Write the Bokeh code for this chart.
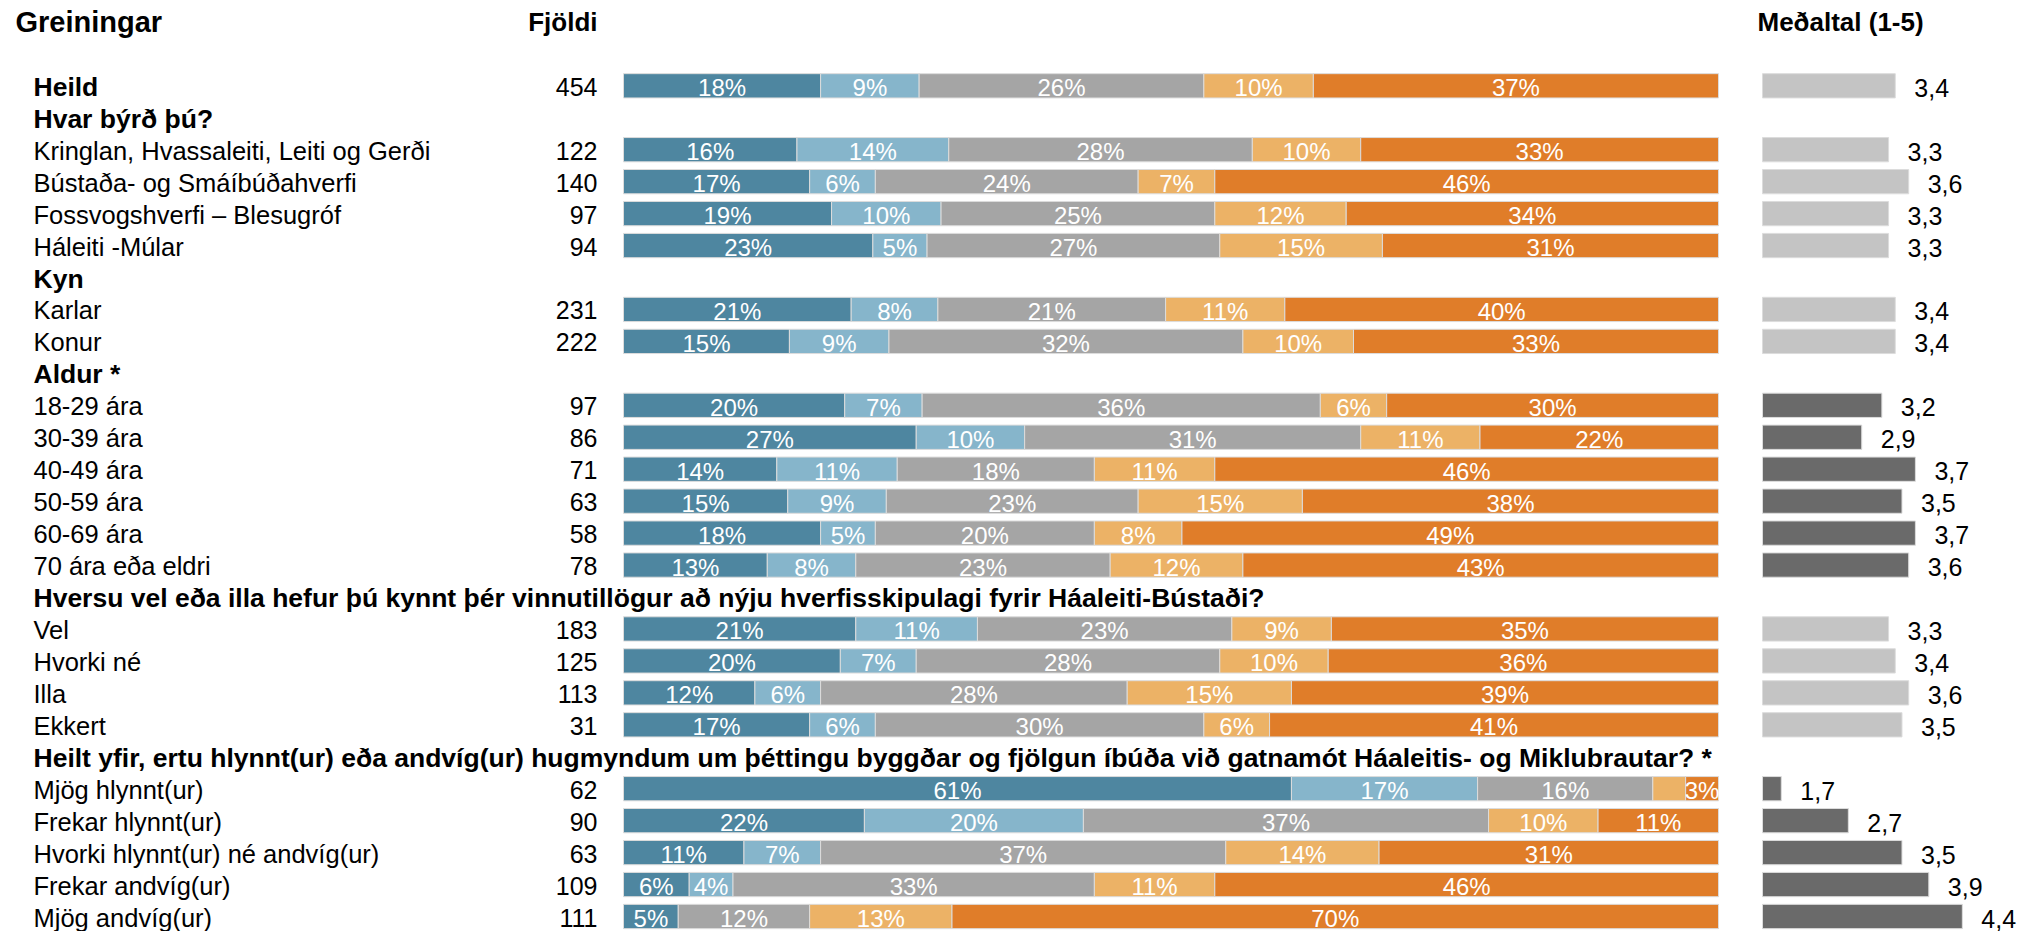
from bokeh.plotting import figure
from bokeh.models import ColumnDataSource, Range1d
from bokeh.core.properties import value
from bokeh.embed import file_html
from bokeh.resources import INLINE

# ---------------- data ----------------
layout_rows = [
    "Heild",
    "Hvar býrð þú?",
    "Kringlan, Hvassaleiti, Leiti og Gerði",
    "Bústaða- og Smáíbúðahverfi",
    "Fossvogshverfi – Blesugróf",
    "Háleiti -Múlar",
    "Kyn",
    "Karlar",
    "Konur",
    "Aldur *",
    "18-29 ára",
    "30-39 ára",
    "40-49 ára",
    "50-59 ára",
    "60-69 ára",
    "70 ára eða eldri",
    "Hversu vel eða illa hefur þú kynnt þér vinnutillögur að nýju hverfisskipulagi fyrir Háaleiti-Bústaði?",
    "Vel",
    "Hvorki né",
    "Illa",
    "Ekkert",
    "Heilt yfir, ertu hlynnt(ur) eða andvíg(ur) hugmyndum um þéttingu byggðar og fjölgun íbúða við gatnamót Háaleitis- og Miklubrautar? *",
    "Mjög hlynnt(ur)",
    "Frekar hlynnt(ur)",
    "Hvorki hlynnt(ur) né andvíg(ur)",
    "Frekar andvíg(ur)",
    "Mjög andvíg(ur)",
]
section_headers = [
    "Hvar býrð þú?",
    "Kyn",
    "Aldur *",
    "Hversu vel eða illa hefur þú kynnt þér vinnutillögur að nýju hverfisskipulagi fyrir Háaleiti-Bústaði?",
    "Heilt yfir, ertu hlynnt(ur) eða andvíg(ur) hugmyndum um þéttingu byggðar og fjölgun íbúða við gatnamót Háaleitis- og Miklubrautar? *",
]
bold_labels = ["Heild"] + section_headers

counts = [454, 122, 140, 97, 94, 231, 222, 97, 86, 71, 63, 58, 78, 183, 125, 113, 31, 62, 90, 63, 109, 111]
pct_1 = [18, 16, 17, 19, 23, 21, 15, 20, 27, 14, 15, 18, 13, 21, 20, 12, 17, 61, 22, 11, 6, 5]
pct_2 = [9, 14, 6, 10, 5, 8, 9, 7, 10, 11, 9, 5, 8, 11, 7, 6, 6, 17, 20, 7, 4, 0]
pct_3 = [26, 28, 24, 25, 27, 21, 32, 36, 31, 18, 23, 20, 23, 23, 28, 28, 30, 16, 37, 37, 33, 12]
pct_4 = [10, 10, 7, 12, 15, 11, 10, 6, 11, 11, 15, 8, 12, 9, 10, 15, 6, 3, 10, 14, 11, 13]
pct_5 = [37, 33, 46, 34, 31, 40, 33, 30, 22, 46, 38, 49, 43, 35, 36, 39, 41, 3, 11, 31, 46, 70]
means = [3.4, 3.3, 3.6, 3.3, 3.3, 3.4, 3.4, 3.2, 2.9, 3.7, 3.5, 3.7, 3.6, 3.3, 3.4, 3.6, 3.5, 1.7, 2.7, 3.5, 3.9, 4.4]
hidden_labels = [("Mjög hlynnt(ur)", 3)]  # (row, series index) whose label is not printed

col_titles = ["Greiningar", "Fjöldi", "Meðaltal (1-5)"]

# ---------------- style ----------------
W, H = 2020, 931
BAR_L_PX, BAR_R_PX = 623, 1718          # px of 0% and 100%
ROW0_PX, ROW_PITCH = 85.3, 31.95          # px of row 0 centre, row pitch
MEAN_BASE = 1.42                          # value where mean bars start
MEAN_BASE_PX, MEAN_PPU = 1762, 67.06
LABEL_PX, COUNT_PX, TITLE_PX = 33, 597, 15
TITLE_Y = -2.0
series_colors = ["#4e86a0", "#86b5cb", "#a5a5a5", "#ecb266", "#e07d29"]
MEAN_LIGHT, MEAN_DARK = "#c4c4c4", "#6a6a6a"
FONT = "Liberation Sans"
BAR_H = 0.76

ppu = (BAR_R_PX - BAR_L_PX) / 100.0
x0 = -BAR_L_PX / ppu
x_range = Range1d(x0, x0 + W / ppu)
y_top = -ROW0_PX / ROW_PITCH
y_range = Range1d(y_top + H / ROW_PITCH, y_top)
m0 = MEAN_BASE - MEAN_BASE_PX / MEAN_PPU
mean_range = Range1d(m0, m0 + W / MEAN_PPU)


def px(xpix):
    return x0 + xpix / ppu


p = figure(width=W, height=H, x_range=x_range, y_range=y_range,
           output_backend="svg", toolbar_location=None, min_border=0,
           x_axis_type=None, y_axis_type=None)
p.extra_x_ranges = {"mean": mean_range}
p.outline_line_color = None
p.grid.visible = False
p.background_fill_color = "white"

# ---------------- derived row info ----------------
data_rows = [r for r in layout_rows if r not in section_headers]
ypos = [layout_rows.index(r) for r in data_rows]
section_of = []
cur = ""
for r in layout_rows:
    if r in section_headers:
        cur = r
    elif r == "Heild":
        section_of.append("")
    else:
        section_of.append(cur)

# ---------------- stacked bars ----------------
series = [pct_1, pct_2, pct_3, pct_4, pct_5]
seg = dict(y=[], left=[], right=[], color=[])
lab = dict(x=[], y=[], text=[])
for i, row in enumerate(data_rows):
    vals = [s[i] for s in series]
    tot = float(sum(vals))
    cum = 0.0
    for k, v in enumerate(vals):
        l = cum / tot * 100
        cum += v
        r = cum / tot * 100
        if v > 0:
            seg["y"].append(ypos[i]); seg["left"].append(l); seg["right"].append(r)
            seg["color"].append(series_colors[k])
            if (row, k) not in hidden_labels:
                lab["x"].append((l + r) / 2); lab["y"].append(ypos[i]); lab["text"].append(f"{v}%")

p.hbar(y="y", left="left", right="right", height=BAR_H, fill_color="color",
       line_color="#dcdcdc", line_width=1, source=ColumnDataSource(seg))
p.text(x="x", y="y", text="text", source=ColumnDataSource(lab), text_color="white",
       text_font=value(FONT), text_font_size="24px", text_align="center",
       text_baseline="middle", y_offset=2)

# ---------------- mean bars ----------------
mcol = [MEAN_DARK if s.endswith("*") else MEAN_LIGHT for s in section_of]
msrc = ColumnDataSource(dict(y=ypos, right=means, left=[MEAN_BASE] * len(means), color=mcol,
                             text=[f"{m:.1f}".replace(".", ",") for m in means]))
p.hbar(y="y", left="left", right="right", height=BAR_H, fill_color="color",
       line_color="#dcdcdc", line_width=1, source=msrc, x_range_name="mean")
p.text(x="right", y="y", text="text", source=msrc, x_range_name="mean",
       text_color="black", text_font=value(FONT), text_font_size="25px",
       text_align="left", text_baseline="middle", x_offset=19, y_offset=2)

# ---------------- row labels and counts ----------------
reg = [r for r in layout_rows if r not in bold_labels]
bld = [r for r in layout_rows if r in bold_labels]
p.text(x=[px(LABEL_PX)] * len(reg), y=[layout_rows.index(r) for r in reg], text=reg,
       text_font=value(FONT), text_font_size="25.5px", text_color="black",
       text_baseline="middle", y_offset=1)
p.text(x=[px(LABEL_PX)] * len(bld), y=[layout_rows.index(r) for r in bld], text=bld,
       text_font=value(FONT), text_font_size="26.5px", text_font_style="bold",
       text_color="black", text_baseline="middle", y_offset=1)
p.text(x=[px(COUNT_PX)] * len(counts), y=ypos, text=[str(c) for c in counts],
       text_font=value(FONT), text_font_size="25px", text_color="black",
       text_align="right", text_baseline="middle", y_offset=1)

# ---------------- column titles ----------------
p.text(x=[px(TITLE_PX)], y=[TITLE_Y], text=[col_titles[0]], text_font=value(FONT),
       text_font_size="29px", text_font_style="bold", text_baseline="middle")
p.text(x=[px(COUNT_PX)], y=[TITLE_Y], text=[col_titles[1]], text_font=value(FONT),
       text_font_size="26px", text_font_style="bold", text_baseline="middle", text_align="right")
p.text(x=[MEAN_BASE - 5 / MEAN_PPU], y=[TITLE_Y], text=[col_titles[2]], x_range_name="mean",
       text_font=value(FONT), text_font_size="26px", text_font_style="bold", text_baseline="middle")

open("out.html", "w").write(file_html(p, INLINE))
